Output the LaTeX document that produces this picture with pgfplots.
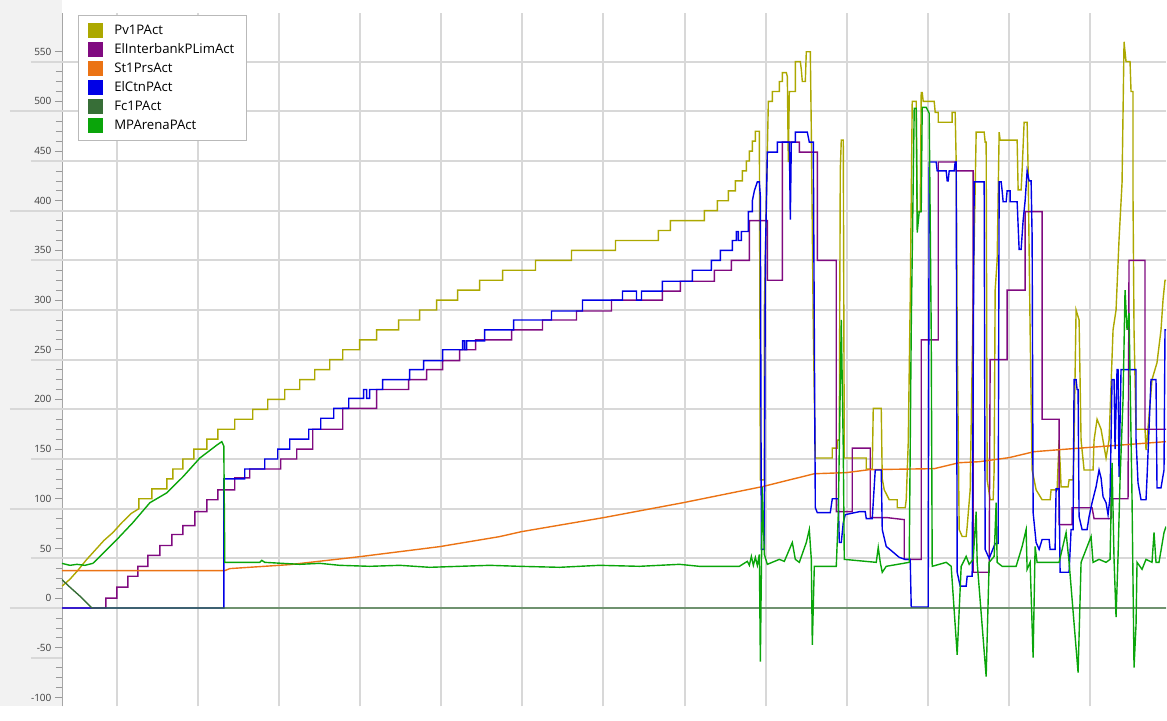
\documentclass[border=0pt]{standalone}
\usepackage{fontspec}
\setmainfont{Open Sans}
\usepackage{pgfplots}
\pgfplotsset{compat=1.18}
\definecolor{cPv}{RGB}{172,168,0}
\definecolor{cEl}{RGB}{128,10,128}
\definecolor{cSt}{RGB}{235,115,20}
\definecolor{cCt}{RGB}{0,0,230}
\definecolor{cFc}{RGB}{55,110,55}
\definecolor{cMP}{RGB}{10,165,10}
\definecolor{gridc}{RGB}{216,216,216}
\definecolor{stripc}{RGB}{242,242,242}
\definecolor{tickc}{RGB}{60,60,60}
\begin{document}
\begin{tikzpicture}[x=1pt,y=1pt]
\fill[stripc] (-62,0) rectangle (0,707);
\begin{axis}[
  at={(0,0)}, anchor=south west,
  scale only axis, width=1105pt, height=694pt,
  xmin=62, xmax=1167, ymin=-109, ymax=589,
  axis x line*=bottom, axis y line*=left,
  x axis line style={draw=none},
  y axis line style={draw=gray!70, line width=0.8pt},
  xtick={117,198.2,279.3,360.5,441.7,522.9,604.0,685.2,766.4,847.5,928.7,1009.9,1091.0},
  xticklabels={}, xtick style={draw=none},
  xmajorgrids=true, ymajorgrids=false,
  grid style={gridc, line width=2pt},
  ytick={-100,-50,...,550},
  minor y tick num=4,
  tick align=outside,
  major tick length=7pt, minor tick length=6pt,
  ytick style={draw=gray!80, line width=0.7pt},
  extra y ticks={-10,40,...,540},
  extra y tick labels={},
  extra y tick style={grid=major, major tick length=0pt},
  /pgf/number format/assume math mode=true,
  yticklabel style={font=\fontsize{10}{12}\selectfont, text=tickc},
  legend cell align=left,
  legend style={at={(axis description cs:0.0145,0.997)}, anchor=north west,
    draw=gray!55, fill=white, line width=0.8pt,
    font=\fontsize{13.2}{15}\selectfont,
    inner xsep=10pt, inner ysep=7.4pt, row sep=3.8pt, column sep=9pt,
    nodes={inner sep=2pt}},
  legend image code/.code={\fill[#1, draw=none] (0pt,-7.5pt) rectangle (15pt,7.5pt);},
  every axis plot/.append style={line width=1.4pt, line join=miter},
  after end axis/.code={
    \foreach \v in {-10,90,190,290,390,490} {\draw[gridc, line width=2pt] (axis cs:10,\v) -- (axis cs:62,\v);}
    \foreach \v in {-60,40,140,240,340,440,540} {\draw[gridc, line width=2pt] (axis cs:31,\v) -- (axis cs:62,\v);}
  },
]
% Pv1PAct
\addplot[cPv] coordinates {
(62,12)(70,19)(78,28)(86,38)(95,48)(104,58)(113,66)(122,76)(131,85)(139,90)
(139,100)(152,100)(152,110)(167,110)(167,120)(173,120)(173,130)(183,130)(183,140)(194,140)(194,150)(207,150)(207,160)(218,160)(218,170)(235,170)(235,180)(253,180)(253,190)(268,190)(268,200)(285,200)(285,210)(300,210)(300,220)(315,220)(315,230)(330,230)(330,240)(343,240)(343,250)(360,250)(360,260)(377,260)(377,270)(399,270)(399,280)(420,280)(420,290)(437,290)(437,300)(458,300)(458,310)(480,310)(480,320)(503,320)(503,330)(536,330)(536,340)(572,340)(572,350)(616,350)(616,360)(659,360)(659,370)(671,370)(671,380)(705,380)(705,390)(718,390)(718,400)(729,400)(729,410)(736,410)(736,420)(743,420)(743,430)(747,430)(747,440)(750,440)(750,450)(753,450)(753,460)(756,460)(756,470)(760,470)
(761,119)(765,119)(765,290)(767,399)(769,500)(773,500)(773,510)(780,510)(780,520)(783,520)(783,529)(787,529)(788,525)(789,439)(790,510)(796,510)(796,540)(801,540)(802,532)(803,520)(806,520)(807,550)(811,550)(812,471)(814,270)(816,141)(833,141)(833,151)(838,151)(838,159)(840,159)(841,431)(842,461)(844,461)(845,141)(867,141)(867,130)(873,130)(874,191)(882,191)(883,120)(885,109)(890,99)(898,99)(898,91)(906,91)(907,99)(909,156)(911,300)(913,500)(917,500)(918,389)(921,389)(922,509)(923,509)(924,500)(935,500)(936,489)(939,489)(939,479)(953,479)(953,489)(956,489)(957,439)(958,270)(960,69)(963,62)(967,62)(968,72)(971,109)(974,300)(977,469)(985,469)(986,459)(987,459)(988,119)(991,99)(994,99)(995,129)(996,310)(998,340)(1000,469)(1001,461)(1018,461)(1019,411)(1022,411)(1023,431)(1025,479)(1028,479)(1029,431)(1031,270)(1033,129)(1037,109)(1043,99)(1051,99)(1052,109)(1058,109)(1060,159)(1062,112)(1069,112)(1070,119)(1074,119)(1075,159)(1077,290)(1080,280)(1082,159)(1085,129)(1094,129)(1095,159)(1098,180)(1102,170)(1107,141)(1110,159)(1114,270)(1117,290)(1120,361)(1123,418)(1125,560)(1127,540)(1131,540)(1132,510)(1134,510)(1134,401)(1135,270)(1137,170)(1146,170)(1147,149)(1148,159)(1153,220)(1158,237)(1162,270)(1164,300)(1166,320)(1167,320)
};
\addlegendentry{Pv1PAct}
% ElInterbankPLimAct
\addplot[cEl] coordinates {
(62,-10)(106,-10)(106,0)(117,0)(117,11)(128,11)(128,22)(138,22)(138,32)(148,32)(148,43)(160,43)(160,53)(172,53)(172,64)(183,64)(183,73)(195,73)(195,87)(207,87)(207,99)(218,99)(218,109)(235,109)(235,121)(250,121)(250,130)(281,130)(281,140)(297,140)(297,150)(313,150)(313,170)(343,170)(343,191)(377,191)(377,210)(409,210)(409,220)(427,220)(427,230)(443,230)(443,239)(460,239)(460,250)(476,250)(476,260)(512,260)(512,270)(543,270)(543,280)(577,280)(577,289)(612,289)(612,300)(663,300)(663,309)(681,309)(681,319)(715,319)(715,330)(732,330)(732,340)(750,340)(750,380)(768,380)(768,320)(783,320)(783,459)(800,459)(800,449)(818,449)(818,340)(837,340)(837,87)(853,87)(853,151)(871,151)(871,81)(888,81)(905,79)(905,39)(922,39)(922,260)(939,260)(939,439)(957,439)(957,430)(974,430)(974,26)(990,26)(991,240)(1008,240)(1008,310)(1026,310)(1026,389)(1043,389)(1043,180)(1060,180)(1060,74)(1073,74)(1073,91)(1093,91)(1095,80)(1112,80)(1112,100)(1129,100)(1130,340)(1146,340)(1146,170)(1167,170)
};
\addlegendentry{ElInterbankPLimAct}
% St1PrsAct
\addplot[cSt] coordinates {
(62,27.7)(225,27.7)(230,29.7)(290,33.7)(360,41.7)(440,51.8)(500,61.9)(522,66.9)(604,81)(684,96.1)(763,112.2)(815,125.2)(847,126.3)(870,129.3)(935,130.3)(960,136.3)(980,137.3)(1010,141.4)(1035,147.4)(1073,150.4)(1113,153.4)(1167,157.5)
};
\addlegendentry{St1PrsAct}
% ElCtnPAct
\addplot[cCt] coordinates {
(62,-10)(224,-10)(224,120)(245,120)(245,130)(265,130)(265,140)(278,140)(278,150)(290,150)(290,160)(309,160)(309,170)(321,170)(321,181)(334,181)(334,191)(349,191)(349,201)(364,201)(364,210)(367,210)(367,201)(370,201)(370,210)(383,210)(383,220)(410,220)(410,230)(424,230)(424,239)(443,239)(443,250)(463,250)(463,259)(465,259)(465,250)(467,250)(467,259)(485,259)(485,270)(514,270)(514,280)(552,280)(552,289)(583,289)(583,300)(623,300)(623,309)(637,309)(637,300)(642,300)(642,309)(663,309)(663,319)(693,319)(693,330)(712,330)(712,340)(721,340)(721,350)(733,350)(733,360)(737,360)(737,369)(739,369)(739,360)(742,360)(742,369)(749,369)(749,389)(753,389)(753,400)(755,410)(758,419)(760,419)(761,404)(762,49)(765,49)(766,340)(768,449)(778,449)(778,459)(790,459)(791,381)(792,459)(796,459)(796,469)(808,469)(810,459)(814,459)(815,270)(816,91)(818,86)(831,86)(833,100)(839,100)(840,56)(842,56)(844,76)(846,84)(860,87)(866,87)(867,80)(873,80)(876,129)(882,129)(883,69)(887,52)(893,47)(900,41)(906,39)(911,39)(912,-9)(929,-9)(930,439)(937,439)(938,430)(947,430)(948,420)(949,420)(950,430)(955,430)(956,439)(957,439)(958,26)(961,12)(967,12)(968,22)(973,22)(975,419)(985,419)(986,49)(990,40)(996,55)(999,55)(1000,419)(1002,419)(1003,410)(1004,399)(1007,399)(1008,410)(1011,410)(1011,399)(1018,399)(1020,351)(1022,351)(1024,380)(1026,400)(1028,430)(1030,420)(1032,420)(1033,364)(1034,86)(1037,56)(1040,49)(1043,59)(1050,59)(1051,49)(1056,49)(1057,110)(1060,110)(1061,26)(1070,26)(1072,69)(1074,69)(1075,220)(1077,220)(1078,210)(1079,210)(1080,82)(1083,69)(1088,69)(1090,82)(1093,96)(1097,112)(1100,129)(1102,121)(1104,102)(1107,96)(1109,84)(1111,102)(1113,220)(1115,220)(1116,150)(1118,230)(1119,230)(1120,122)(1122,230)(1137,230)(1137,160)(1139,116)(1142,99)(1147,99)(1148,121)(1152,220)(1157,220)(1158,111)(1162,111)(1165,129)(1166,270)(1167,270)
};
\addlegendentry{ElCtnPAct}
% Fc1PAct
\addplot[cFc] coordinates {
(62,18.6)(70,11)(80,2)(92,-10)(1167,-10)
};
\addlegendentry{Fc1PAct}
% MPArenaPAct
\addplot[cMP] coordinates {
(62,35)(70,33)(77,34)(85,33)(93,35)(100,42)(117,59)(133,76)(150,96)(167,106)(183,122)(200,141)(217,154)(222,157.5)(224,153)(225,36)(260,36)(262,38)(265,36)(300,34)(320,35)(340,33)(370,32)(400,33)(430,31)(460,32)(490,33)(520,32)(560,31)(600,33)(640,32)(680,34)(700,32)(740,32)(748,37)(750,33)(752,42)(754,33)(756,41)(758,33)(760,44)(761,-64)(763,112)(765,44)(768,34)(780,39)(785,37)(793,56)(796,39)(800,36)(807,56)(810,69)(812,39)(813,-47)(815,32)(837,32)(839,84)(842,280)(844,149)(845,39)(877,36)(879,51)(881,36)(883,26)(887,32)(910,36)(912,270)(915,493)(917,493)(918,368)(920,389)(922,389)(923,494)(927,494)(930,488)(932,270)(933,32)(947,36)(952,32)(958,-57)(962,32)(967,42)(970,34)(974,39)(977,87)(978,36)(987,-79)(990,36)(995,42)(997,96)(998,36)(1003,32)(1017,32)(1023,52)(1027,69)(1028,29)(1031,36)(1034,-60)(1036,52)(1038,36)(1060,36)(1067,66)(1070,36)(1079,-75)(1082,36)(1092,62)(1094,36)(1100,39)(1107,36)(1111,39)(1113,136)(1115,39)(1117,-19)(1119,42)(1121,119)(1124,200)(1126,310)(1128,270)(1130,287)(1133,100)(1135,-70)(1137,-27)(1138,36)(1143,29)(1147,39)(1153,36)(1155,66)(1157,36)(1160,36)(1165,66)(1167,72)
};
\addlegendentry{MPArenaPAct}
\end{axis}
\end{tikzpicture}
\end{document}
